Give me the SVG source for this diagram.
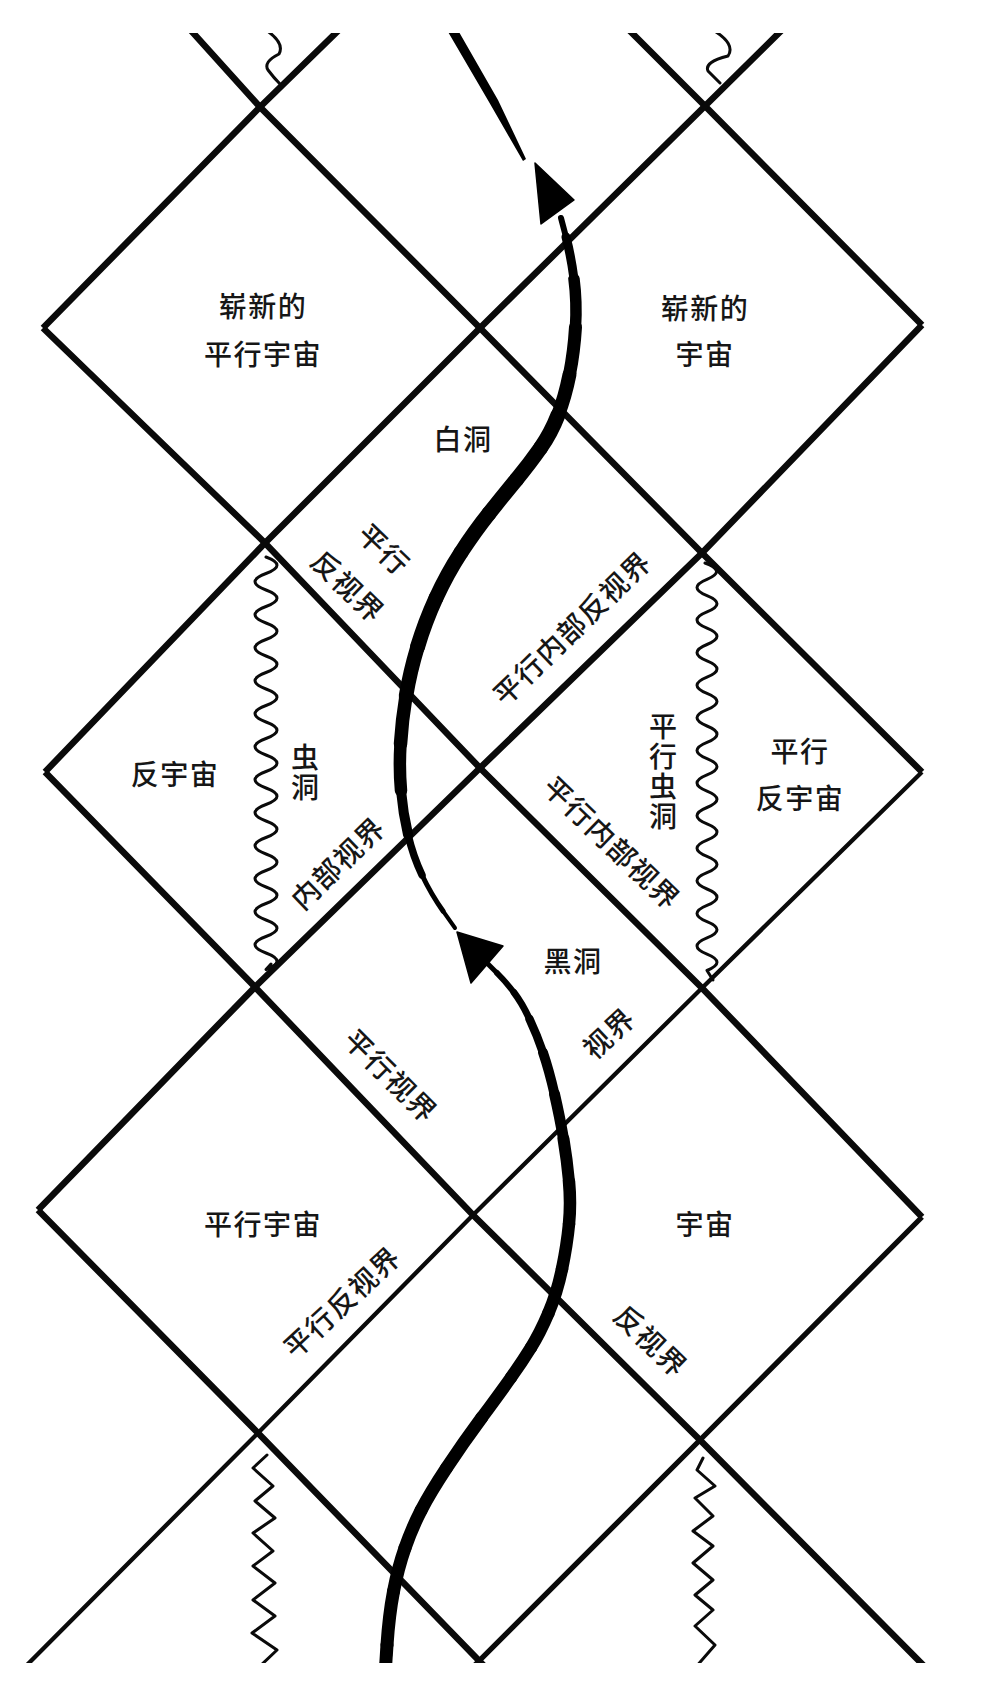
<svg xmlns="http://www.w3.org/2000/svg" width="1000" height="1703" viewBox="0 0 1000 1703">
  <defs>
    <style>
      .ln { fill: none; stroke: #0a0a0a; stroke-width: 6.5; stroke-linejoin: miter; stroke-linecap: butt; }
      .thin { stroke-width: 4.3; }
      .mid { stroke-width: 5.3; }
      .wave { fill: none; stroke: #0a0a0a; stroke-width: 3; stroke-linejoin: round; stroke-linecap: round; }
      .traj path { stroke: #000; fill: none; stroke-linecap: round; }
      .head { fill: #000; stroke: #000; stroke-width: 1.5; stroke-linejoin: round; }
      .lbl { font-family: "Noto Sans CJK SC", "Noto Sans", sans-serif; font-size: 28px; font-weight: 500; fill: #161616; text-anchor: middle; dominant-baseline: central; letter-spacing: 1.5px; }
      .vert { writing-mode: vertical-rl; letter-spacing: 2px; }
    </style>
    <clipPath id="frame">
      <rect x="0" y="33" width="1000" height="1630"/>
    </clipPath>
  </defs>

  <rect x="0" y="0" width="1000" height="1703" fill="#ffffff"/>

  <g id="grid" clip-path="url(#frame)">
    <polyline class="ln" points="186,25 260,107 480,328 702,553 922,772"/>
    <polyline class="ln" points="624,25 705,106 922,325"/>
    <polyline class="ln" points="43,328 265,543 480,768 702,988 922,1217"/>
    <polyline class="ln" points="45,772 255,987 473,1215 700,1440 930,1672"/>
    <polyline class="ln" points="38,1210 258,1433 490,1672"/>
    <polyline class="ln" points="344,25 260,107 43,328"/>
    <polyline class="ln" points="787,25 705,106 480,328 265,543 45,772"/>
    <polyline class="ln" points="922,325 702,553 480,768 255,987 38,1210"/>
    <polyline class="ln thin" points="922,772 702,988 473,1215 258,1433 20,1672"/>
    <polyline class="ln mid" points="922,1217 700,1440 468,1672"/>
  </g>

  <g id="singularities" clip-path="url(#frame)">
    <path class="wave" d="M266 30 Q285 43 279 54 Q263 62 268 70 Q274 78 280 84"/>
    <path class="wave" d="M713 30 Q736 44 728 56 Q704 62 708 71 L720 83"/>
    <path class="wave" d="M266 557 Q288 565.25 266 573.5 T266 590 T266 606.5 T266 623 T266 639.5 T266 656 T266 672.5 T266 689 T266 705.5 T266 722 T266 738.5 T266 755 T266 771.5 T266 788 T266 804.5 T266 821 T266 837.5 T266 854 T266 870.5 T266 887 T266 903.5 T266 920 T266 936.5 T266 953 T266 969.5 L271 964"/>
    <path class="wave" d="M705 563 Q727 571.15 707 579.3 T707 595.6 T707 611.9 T707 628.2 T707 644.5 T707 660.8 T707 677.1 T707 693.4 T707 709.7 T707 726 T707 742.3 T707 758.6 T707 774.9 T707 791.2 T707 807.5 T707 823.8 T707 840.1 T707 856.4 T707 872.7 T707 889 T707 905.3 T707 921.6 T707 937.9 T707 954.2 T707 970.5 L713 980"/>
    <polyline class="wave" points="267,1455 253,1468 273,1486 255,1501 275,1518 253,1533 273,1551 253,1566 275,1583 253,1600 275,1616 252,1633 277,1650 258,1668"/>
    <polyline class="wave" points="703,1458 697,1470 715,1486 695,1498 713,1516 693,1531 713,1546 693,1563 713,1580 695,1595 713,1610 695,1626 715,1645 695,1668"/>
  </g>

  <g id="connectors" clip-path="url(#frame)">
    <g id="trajectory-lower" class="traj">
      <path d="M385 1675 L387 1645" stroke-width="13"/>
      <path d="M387 1645 Q389 1615 393.5 1591.5" stroke-width="13"/>
      <path d="M393.5 1591.5 Q398 1568 405 1548" stroke-width="13"/>
      <path d="M405 1548 Q412 1528 421 1510.5" stroke-width="13"/>
      <path d="M421 1510.5 Q430 1493 446.5 1468" stroke-width="13"/>
      <path d="M446.5 1468 Q463 1443 481.5 1418" stroke-width="13"/>
      <path d="M481.5 1418 Q500 1393 511 1377.5" stroke-width="12.5"/>
      <path d="M511 1377.5 Q522 1362 531 1347.5" stroke-width="12.5"/>
      <path d="M531 1347.5 Q540 1333 548.5 1313" stroke-width="12.5"/>
      <path d="M548.5 1313 Q557 1293 562 1269" stroke-width="12.5"/>
      <path d="M562 1269 Q567 1245 569 1224" stroke-width="12.5"/>
      <path d="M569 1224 Q571 1203 569 1181.5" stroke-width="12.5"/>
      <path d="M569 1181.5 Q567 1160 563.5 1139" stroke-width="12"/>
      <path d="M563.5 1139 Q560 1118 554.5 1094" stroke-width="11"/>
      <path d="M554.5 1094 Q549 1070 543 1052.5" stroke-width="10"/>
      <path d="M543 1052.5 Q537 1035 529.5 1019" stroke-width="8.5"/>
      <path d="M529.5 1019 Q522 1003 514 992.5" stroke-width="7"/>
      <path d="M514 992.5 Q506 982 497 973" stroke-width="6"/>
      <path d="M497 973 L488 964" stroke-width="5"/>
    </g>
    <polygon id="arrowhead-lower" class="head" points="457,932 471,983 503,946"/>

    <g id="trajectory-upper" class="traj">
      <path d="M455 928 L443 911" stroke-width="4"/>
      <path d="M443 911 Q431 894 422 875" stroke-width="5"/>
      <path d="M422 875 Q413 856 408 834.5" stroke-width="7.5"/>
      <path d="M408 834.5 Q403 813 401 790.5" stroke-width="10"/>
      <path d="M401 790.5 Q399 768 400.5 744" stroke-width="12.5"/>
      <path d="M400.5 744 Q402 720 406 696" stroke-width="13.5"/>
      <path d="M406 696 Q410 672 417.5 647" stroke-width="14.5"/>
      <path d="M417.5 647 Q425 622 436 598" stroke-width="15"/>
      <path d="M436 598 Q447 574 461 552.5" stroke-width="15"/>
      <path d="M461 552.5 Q475 531 489 513.5" stroke-width="15"/>
      <path d="M489 513.5 Q503 496 516.5 479.5" stroke-width="15"/>
      <path d="M516.5 479.5 Q530 463 540.5 448" stroke-width="15"/>
      <path d="M540.5 448 Q551 433 558 415" stroke-width="15"/>
      <path d="M558 415 Q565 397 569.5 374.5" stroke-width="14"/>
      <path d="M569.5 374.5 Q574 352 575.5 327" stroke-width="13"/>
      <path d="M575.5 327 Q577 302 574 279" stroke-width="11.5"/>
      <path d="M574 279 Q571 256 566 237" stroke-width="9"/>
      <path d="M566 237 L561 218" stroke-width="6"/>
    </g>
    <polygon id="arrowhead-upper" class="head" points="535,163 541,224 574,200"/>

    <polygon id="trajectory-top" fill="#000" points="444,25 455,25 498,100 526,159 523,161 489,102"/>
  </g>

  <g id="node-new-parallel-universe">
    <text class="lbl" x="263" y="305">崭新的</text>
    <text class="lbl" x="263" y="353">平行宇宙</text>
  </g>
  <g id="node-new-universe">
    <text class="lbl" x="705" y="307">崭新的</text>
    <text class="lbl" x="705" y="353">宇宙</text>
  </g>
  <g id="node-white-hole">
    <text class="lbl" x="463" y="438">白洞</text>
  </g>
  <g id="label-parallel-antihorizon-upper" transform="translate(367,567) rotate(44)">
    <text class="lbl" x="0" y="-26">平行</text>
    <text class="lbl" x="0" y="26">反视界</text>
  </g>
  <g id="label-parallel-inner-antihorizon" transform="translate(571,627) rotate(-44)">
    <text class="lbl" x="0" y="0">平行内部反视界</text>
  </g>
  <g id="node-antiuniverse">
    <text class="lbl" x="175" y="773">反宇宙</text>
  </g>
  <g id="node-wormhole">
    <text class="lbl vert" x="305" y="773">虫洞</text>
  </g>
  <g id="label-inner-horizon" transform="translate(337,862) rotate(-44)">
    <text class="lbl" x="0" y="0">内部视界</text>
  </g>
  <g id="node-parallel-wormhole">
    <text class="lbl vert" x="663" y="772">平行虫洞</text>
  </g>
  <g id="node-parallel-antiuniverse">
    <text class="lbl" x="800" y="750">平行</text>
    <text class="lbl" x="800" y="797">反宇宙</text>
  </g>
  <g id="label-parallel-inner-horizon" transform="translate(613,842) rotate(44)">
    <text class="lbl" x="0" y="0">平行内部视界</text>
  </g>
  <g id="node-black-hole">
    <text class="lbl" x="573" y="960">黑洞</text>
  </g>
  <g id="label-horizon" transform="translate(608,1032) rotate(-43)">
    <text class="lbl" x="0" y="0">视界</text>
  </g>
  <g id="label-parallel-horizon" transform="translate(392,1075) rotate(45)">
    <text class="lbl" x="0" y="0">平行视界</text>
  </g>
  <g id="node-parallel-universe">
    <text class="lbl" x="263" y="1223">平行宇宙</text>
  </g>
  <g id="node-universe">
    <text class="lbl" x="705" y="1223">宇宙</text>
  </g>
  <g id="label-parallel-antihorizon" transform="translate(341,1301) rotate(-43)">
    <text class="lbl" x="0" y="0">平行反视界</text>
  </g>
  <g id="label-antihorizon" transform="translate(652,1340) rotate(44)">
    <text class="lbl" x="0" y="0">反视界</text>
  </g>
</svg>
